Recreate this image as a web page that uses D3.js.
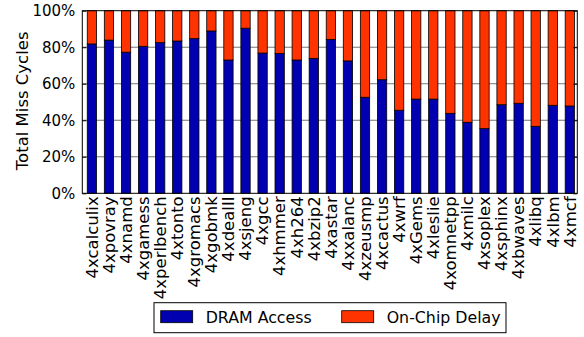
<!DOCTYPE html>
<html><head><meta charset="utf-8">
<script src="https://cdn.jsdelivr.net/npm/d3@7"></script>
<style>html,body{margin:0;padding:0;background:#fff;}svg{display:block;font-family:"DejaVu Sans",sans-serif;}</style>
</head><body>
<script>
const categories = ["4xcalculix","4xpovray","4xnamd","4xgamess","4xperlbench","4xtonto","4xgromacs","4xgobmk","4xdealII","4xsjeng","4xgcc","4xhmmer","4xh264","4xbzip2","4xastar","4xxalanc","4xzeusmp","4xcactus","4xwrf","4xGems","4xleslie","4xomnetpp","4xmilc","4xsoplex","4xsphinx","4xbwaves","4xlibq","4xlbm","4xmcf"];
const dramAccess = [81.8,83.9,77.3,80.5,82.5,83.4,84.7,88.9,73.0,90.4,76.8,76.5,73.0,73.9,84.3,72.5,52.6,62.2,45.5,51.6,51.6,43.8,38.9,35.4,48.5,49.3,36.7,48.2,47.8];
const onChipDelay = dramAccess.map(v => 100 - v);
const yTicks = [0,20,40,60,80,100];
const seriesNames = ["DRAM Access","On-Chip Delay"];
const colors = ["#0000b0","#ff3300"];

const W = 584, H = 337;
const L = 82.3, R = 577.3, T = 10.7, B = 193.3;
const svg = d3.select("body").append("svg").attr("width", W).attr("height", H);

const x = d3.scaleLinear().domain([0, categories.length]).range([L, R]);
const y = d3.scaleLinear().domain([0, 100]).range([B, T]);
const barOff = 0.29, barW = 0.545;

// gridlines
svg.append("g").selectAll("line").data(yTicks.filter(t => t > 0 && t < 100)).join("line")
  .attr("x1", L).attr("x2", R).attr("y1", d => y(d)).attr("y2", d => y(d))
  .attr("stroke", "#777").attr("stroke-width", 1);

const stacked = categories.map((c, i) => ({i, d: dramAccess[i], o: onChipDelay[i]}));
const g = svg.append("g");
g.selectAll("rect.d").data(stacked).join("rect").attr("class", "d")
  .attr("x", d => x(d.i + barOff)).attr("width", d => x(d.i + barOff + barW) - x(d.i + barOff))
  .attr("y", d => y(d.d)).attr("height", d => y(0) - y(d.d))
  .attr("fill", colors[0]).attr("stroke", "#000").attr("stroke-width", 0.8);
g.selectAll("rect.o").data(stacked).join("rect").attr("class", "o")
  .attr("x", d => x(d.i + barOff)).attr("width", d => x(d.i + barOff + barW) - x(d.i + barOff))
  .attr("y", d => y(d.d + d.o)).attr("height", d => y(d.d) - y(d.d + d.o))
  .attr("fill", colors[1]).attr("stroke", "#000").attr("stroke-width", 0.8);

// frame
svg.append("rect").attr("x", L).attr("y", T).attr("width", R - L).attr("height", B - T)
  .attr("fill", "none").attr("stroke", "#000").attr("stroke-width", 1);

// y ticks
const yAxis = d3.axisLeft(y).tickValues(yTicks).tickFormat(d => d + "%").tickSize(-4).tickPadding(7);
const ya = svg.append("g").attr("transform", `translate(${L},0)`).call(yAxis);
ya.select(".domain").remove();
ya.selectAll("text").attr("font-size", 15).attr("fill", "#000").attr("font-family", "DejaVu Sans");
ya.selectAll("line").attr("stroke", "#000");
const yAxisR = d3.axisRight(y).tickValues(yTicks).tickFormat("").tickSize(-4);
const yr = svg.append("g").attr("transform", `translate(${R},0)`).call(yAxisR);
yr.select(".domain").remove();
yr.selectAll("line").attr("stroke", "#000");

// x tick labels
svg.append("g").selectAll("text").data(categories).join("text")
  .attr("transform", (d, i) => `translate(${x(i + barOff + barW / 2)},${B + 3}) rotate(-90)`)
  .attr("text-anchor", "end").attr("dy", "0.35em")
  .attr("font-size", 16.5).attr("fill", "#000").text(d => d);

// y label
svg.append("text").attr("transform", `translate(28,${(30 + 171.7) / 2}) rotate(-90)`)
  .attr("text-anchor", "middle").attr("font-size", 16.5).attr("fill", "#000").text("Total Miss Cycles");

// legend
const lg = svg.append("g");
lg.append("rect").attr("x", 154).attr("y", 302.7).attr("width", 352).attr("height", 30)
  .attr("fill", "#fff").attr("stroke", "#000").attr("stroke-width", 1);
const lx = [160.7, 341.7];
seriesNames.forEach((n, k) => {
  lg.append("rect").attr("x", lx[k]).attr("y", 310.7).attr("width", 32).attr("height", 12)
    .attr("fill", colors[k]).attr("stroke", "#000").attr("stroke-width", 0.8);
  lg.append("text").attr("x", lx[k] + 45).attr("y", 323.2).attr("font-size", 15.8).attr("fill", "#000").text(n);
});
</script>
</body></html>
